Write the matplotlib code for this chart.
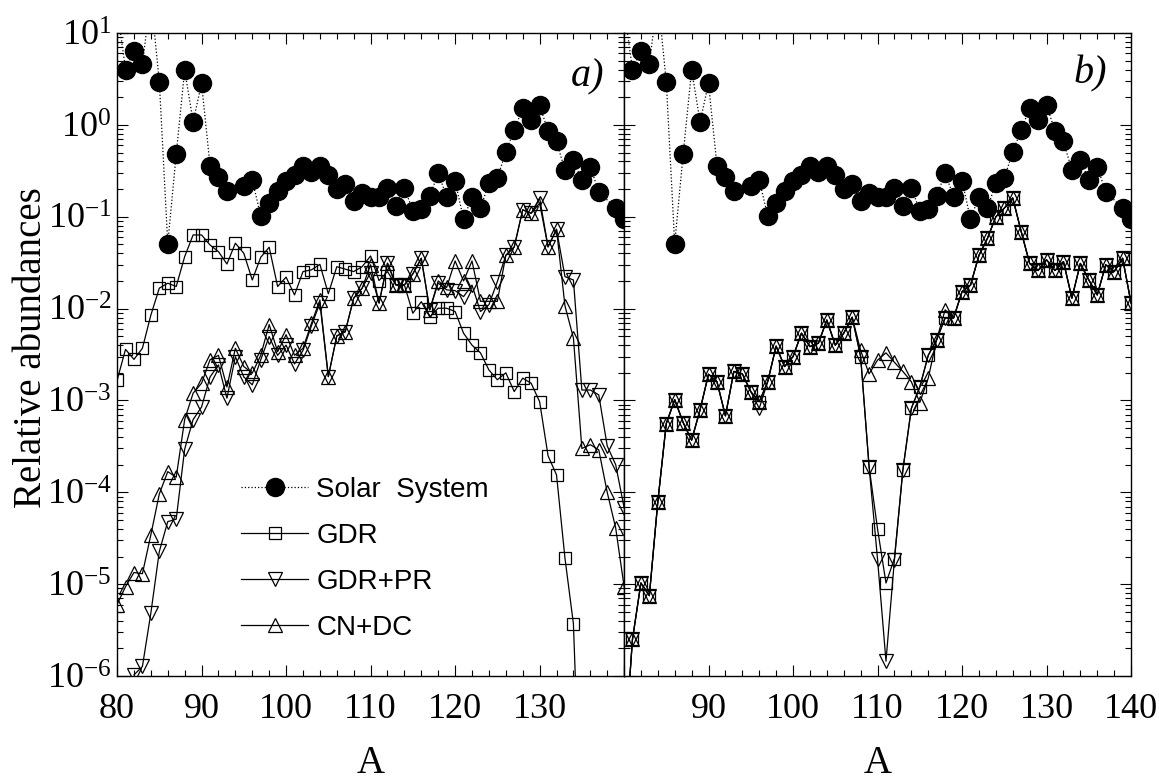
import matplotlib
matplotlib.use('Agg')
import matplotlib.pyplot as plt
from matplotlib.ticker import MultipleLocator, LogLocator, FixedLocator, NullFormatter

plt.rcParams['font.family'] = 'Liberation Serif'
plt.rcParams['mathtext.fontset'] = 'custom'
plt.rcParams['mathtext.rm'] = 'Liberation Serif'
plt.rcParams['mathtext.it'] = 'Liberation Serif:italic'

# ---- data (mass number A -> relative abundance) ----
solar_A = [80, 81, 82, 83, 84, 85, 86, 87, 88, 89, 90, 91, 92, 93, 95, 96, 97, 98, 99,
           100, 101, 102, 103, 104, 105, 106, 107, 108, 109, 110, 111, 112, 113, 114,
           115, 116, 117, 118, 119, 120, 121, 122, 123, 124, 125, 126, 127, 128, 129,
           130, 131, 132, 133, 134, 135, 136, 137, 139, 140]
solar_y = [19, 4.0, 6.4, 4.6, 25, 2.95, 0.051, 0.48, 3.96, 1.08, 2.83, 0.36, 0.27, 0.19,
           0.218, 0.25, 0.103, 0.14, 0.19, 0.247, 0.287, 0.36, 0.31, 0.36, 0.287, 0.20,
           0.23, 0.149, 0.183, 0.163, 0.163, 0.207, 0.132, 0.207, 0.116, 0.121, 0.168,
           0.297, 0.166, 0.247, 0.094, 0.166, 0.124, 0.232, 0.262, 0.51, 0.88, 1.52,
           1.13, 1.63, 0.86, 0.66, 0.32, 0.415, 0.25, 0.35, 0.187, 0.124, 0.094]

# panel a)
gdr_a_A = list(range(80, 136))
gdr_a = [1.65e-3, 3.6e-3, 2.8e-3, 3.7e-3, 8.5e-3, 0.0167, 0.0189, 0.0174, 0.0368, 0.0634,
         0.0634, 0.0493, 0.0417, 0.0306, 0.0515, 0.040, 0.0205, 0.0362, 0.0466, 0.0174,
         0.022, 0.0141, 0.0253, 0.0264, 0.0303, 0.0145, 0.0286, 0.0269, 0.0253, 0.0286,
         0.0374, 0.0202, 0.0253, 0.0181, 0.0181, 8.9e-3, 0.0119, 8.1e-3, 0.0101, 0.0101,
         9.3e-3, 5.4e-3, 4.0e-3, 3.3e-3, 2.15e-3, 1.68e-3, 2.0e-3, 1.25e-3, 1.75e-3,
         1.54e-3, 9.7e-4, 2.5e-4, 1.55e-4, 1.92e-5, 3.7e-6, 1e-8]

gdrpr_a_A = list(range(82, 141))
gdrpr_a = [1.03e-6, 1.27e-6, 4.85e-6, 2.27e-5, 4.8e-5, 5.1e-5, 2.95e-4, 6.2e-4, 8.5e-4,
           1.8e-3, 2.44e-3, 1.06e-3, 3.0e-3, 1.8e-3, 1.48e-3, 2.77e-3, 4.96e-3, 3.1e-3,
           4.0e-3, 2.5e-3, 3.5e-3, 6.5e-3, 0.0115, 1.82e-3, 5.05e-3, 5.6e-3, 0.013, 0.0167,
           0.0247, 0.0115, 0.0312, 0.0181, 0.0181, 0.0239, 0.0353, 9.7e-3, 0.019, 0.016,
           0.0157, 0.0135, 0.018, 9.3e-3, 0.011, 0.0197, 0.038, 0.047, 0.119, 0.109, 0.16,
           0.047, 0.073, 0.0223, 0.0205, 1.3e-3, 1.3e-3, 1.15e-3, 3.2e-4, 2.0e-4, 6.8e-5]

cndc_a_A = list(range(80, 141))
cndc_a = [6.0e-6, 9.4e-6, 1.34e-5, 1.3e-5, 3.45e-5, 9.6e-5, 1.68e-4, 1.46e-4, 6.2e-4, 1.2e-3,
          1.54e-3, 2.77e-3, 3.1e-3, 1.4e-3, 3.7e-3, 2.34e-3, 1.98e-3, 3.1e-3, 6.7e-3, 3.4e-3,
          5.2e-3, 3.1e-3, 3.7e-3, 6.9e-3, 0.0124, 1.82e-3, 5.05e-3, 5.6e-3, 0.013, 0.0167,
          0.030, 0.0115, 0.0312, 0.0181, 0.0181, 0.0239, 0.0353, 9.7e-3, 0.020, 0.017,
          0.033, 0.020, 0.033, 0.012, 0.012, 0.012, 0.038, 0.047, 0.119, 0.109, 0.14,
          0.047, 0.073, 0.0107, 4.8e-3, 3.0e-4, 3.3e-4, 2.9e-4, 1.0e-4, 4.1e-5, 9.4e-6]

# panel b)
b_A = list(range(80, 141))
gdr_b = [1.2e-7, 2.5e-6, 1.03e-5, 7.5e-6, 7.9e-5, 5.6e-4, 1.02e-3, 5.75e-4, 3.7e-4, 7.9e-4,
         1.93e-3, 1.6e-3, 6.8e-4, 2.07e-3, 1.95e-3, 1.25e-3, 9.7e-4, 1.6e-3, 3.9e-3, 2.34e-3,
         3.0e-3, 5.4e-3, 3.86e-3, 4.2e-3, 7.5e-3, 4.0e-3, 5.4e-3, 8.05e-3, 3.0e-3, 1.9e-4,
         4.0e-5, 1.03e-5, 1.9e-5, 1.76e-4, 8.2e-4, 1.4e-3, 3.1e-3, 4.6e-3, 7.9e-3, 7.9e-3,
         0.0153, 0.018, 0.038, 0.058, 0.10, 0.124, 0.16, 0.069, 0.031, 0.026, 0.034, 0.026,
         0.0325, 0.013, 0.031, 0.0205, 0.0141, 0.030, 0.0253, 0.0353, 0.0115]
gdrpr_b = [1.2e-7, 2.5e-6, 1.03e-5, 7.5e-6, 7.9e-5, 5.6e-4, 1.02e-3, 5.75e-4, 3.7e-4, 7.9e-4,
           1.93e-3, 1.6e-3, 6.8e-4, 2.07e-3, 1.95e-3, 1.25e-3, 8.2e-4, 1.6e-3, 3.9e-3, 2.34e-3,
           3.0e-3, 5.4e-3, 3.86e-3, 4.2e-3, 7.5e-3, 4.0e-3, 5.4e-3, 8.05e-3, 3.0e-3, 1.9e-4,
           1.87e-5, 1.45e-6, 1.85e-5, 1.76e-4, 8.2e-4, 1.4e-3, 3.1e-3, 4.6e-3, 7.9e-3, 7.9e-3,
           0.0153, 0.018, 0.038, 0.058, 0.10, 0.124, 0.16, 0.069, 0.031, 0.026, 0.034, 0.026,
           0.0325, 0.013, 0.031, 0.0205, 0.0141, 0.030, 0.0253, 0.0353, 0.0115]
cndc_b = [1.2e-7, 2.5e-6, 1.03e-5, 7.5e-6, 7.9e-5, 5.6e-4, 1.02e-3, 5.75e-4, 3.7e-4, 7.9e-4,
          1.93e-3, 1.6e-3, 6.8e-4, 2.07e-3, 1.95e-3, 1.25e-3, 9.7e-4, 1.6e-3, 3.9e-3, 2.34e-3,
          3.0e-3, 5.4e-3, 3.86e-3, 4.2e-3, 7.5e-3, 4.0e-3, 5.4e-3, 8.05e-3, 3.5e-3, 1.95e-3,
          2.75e-3, 3.3e-3, 2.6e-3, 2.07e-3, 1.6e-3, 9.5e-4, 1.75e-3, 4.6e-3, 9.7e-3, 7.9e-3,
          0.0153, 0.018, 0.038, 0.058, 0.10, 0.124, 0.16, 0.069, 0.031, 0.026, 0.034, 0.026,
          0.0325, 0.013, 0.031, 0.0205, 0.0141, 0.030, 0.0253, 0.0353, 0.0115]

x_ticks = [80, 90, 100, 110, 120, 130, 140]
y_ticks = [1e-6, 1e-5, 1e-4, 1e-3, 1e-2, 1e-1, 1e0, 1e1]
y_labels = ['$10^{-6}$', '$10^{-5}$', '$10^{-4}$', '$10^{-3}$', '$10^{-2}$',
            '$10^{-1}$', '$10^{0}$', '$10^{1}$']

fig = plt.figure(figsize=(11.59, 7.81), dpi=100)
ax1 = fig.add_axes([0.101, 0.1344, 0.4375, 0.8233])
ax2 = fig.add_axes([0.5384, 0.1344, 0.4375, 0.8233])

lw = 0.9
sty_sq = dict(color='black', lw=lw, marker='s', ms=9, mfc='none', mew=0.9)
sty_dn = dict(color='black', lw=lw, marker='v', ms=10, mfc='none', mew=0.9)
sty_up = dict(color='black', lw=lw, marker='^', ms=10, mfc='none', mew=0.9)
sty_sol = dict(color='black', lw=0.9, ls=':', marker='o', ms=13, mfc='black', mec='black')

h_sol, = ax1.plot(solar_A, solar_y, **sty_sol)
h_gdr, = ax1.plot(gdr_a_A, gdr_a, **sty_sq)
h_dn, = ax1.plot(gdrpr_a_A, gdrpr_a, **sty_dn)
h_up, = ax1.plot(cndc_a_A, cndc_a, **sty_up)

ax2.plot(solar_A, solar_y, **sty_sol)
ax2.plot(b_A, gdr_b, **sty_sq)
ax2.plot(b_A, gdrpr_b, **sty_dn)
ax2.plot(b_A, cndc_b, **sty_up)

for ax in (ax1, ax2):
    ax.set_yscale('log')
    ax.set_xlim(80, 140)
    ax.set_ylim(1e-6, 10)
    ax.xaxis.set_major_locator(FixedLocator(x_ticks))
    ax.xaxis.set_minor_locator(MultipleLocator(2))
    ax.yaxis.set_major_locator(FixedLocator(y_ticks))
    ax.yaxis.set_minor_locator(LogLocator(base=10, subs=range(2, 10), numticks=20))
    ax.yaxis.set_minor_formatter(NullFormatter())
    ax.tick_params(which='both', direction='in', top=True, right=True, width=0.8)
    ax.tick_params(which='major', length=8, labelsize=26)
    ax.tick_params(axis='x', which='major', pad=12)
    ax.tick_params(which='minor', length=4)
    ax.tick_params(axis='y', which='major', pad=4)
    for sp in ax.spines.values():
        sp.set_linewidth(1.0)
    ax.set_xlabel('A', fontsize=28, labelpad=14)

ax1.set_xticklabels(['80', '90', '100', '110', '120', '130', ''])
ax2.set_xticklabels(['', '90', '100', '110', '120', '130', '140'])
ax1.set_yticklabels(y_labels)
ax2.tick_params(axis='y', labelleft=False)

ax1.text(0.927, 0.932, 'a)', transform=ax1.transAxes, fontsize=29, style='italic',
         ha='center', va='center')
ax2.text(0.919, 0.936, 'b)', transform=ax2.transAxes, fontsize=29, style='italic',
         ha='center', va='center')

fig.text(0.027, 0.555, 'Relative abundances', rotation=90, fontsize=28,
         ha='center', va='center')

leg = ax1.legend([h_sol, h_gdr, h_dn, h_up],
                 ['Solar  System', 'GDR', 'GDR+PR', 'CN+DC'],
                 loc='upper left', bbox_to_anchor=(0.245, 0.31), frameon=False,
                 prop={'family': 'Liberation Sans', 'size': 20},
                 handlelength=2.4, handletextpad=0.3, labelspacing=0.72,
                 borderpad=0, borderaxespad=0)

fig.savefig('out.png', dpi=100)
